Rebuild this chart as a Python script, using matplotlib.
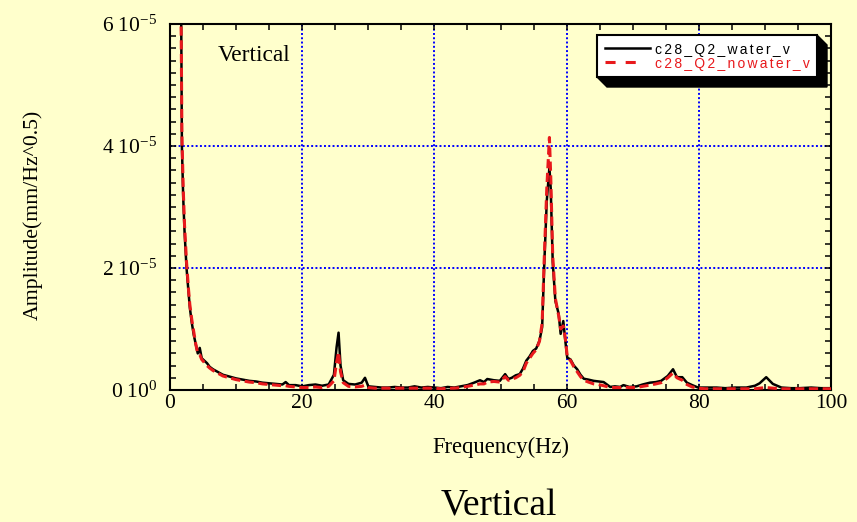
import matplotlib
matplotlib.use('Agg')
import matplotlib.pyplot as plt
from matplotlib.lines import Line2D
from matplotlib.patches import Polygon, Rectangle
from matplotlib.ticker import MultipleLocator, FixedLocator

# ---------------- data (amplitude in 1e-6 mm/Hz^0.5) ----------------
freq = [0.5, 1.0, 1.5, 1.7, 1.8, 2.0, 2.2, 2.5, 2.8, 3.0, 3.3, 3.6, 3.9, 4.2, 4.5, 4.8, 5.2, 5.6, 6.0, 6.5, 7.0, 7.5, 8.0,
        9, 10, 11, 12, 13, 14, 15, 16, 17, 17.5, 18, 19, 20, 21, 22, 23, 24,
        24.8, 25.2, 25.5, 25.8, 26.2, 27, 28, 29, 29.5, 30,
        31, 32, 33, 34, 35, 36, 37, 38, 39, 40, 41, 42, 43, 44, 45, 46,
        46.9, 47.5, 48, 49, 49.9, 50.7, 51.2, 51.7, 52.3, 52.9, 53.4, 53.9, 54.4, 54.9, 55.4, 55.9, 56.3,
        56.6, 57.0, 57.4, 57.6, 57.9, 58.3, 58.8, 59.1, 59.5, 59.8, 60.1, 60.6, 61.1, 61.6, 62.1, 62.6,
        63.3, 64.1, 64.8, 65.6, 66.6, 67.3, 68.1, 68.6, 69.5, 70.6, 71.5, 72.6, 73.5, 74.3, 75.3, 76.1, 76.7, 77.5, 78.2, 79.0, 79.9,
        81, 82.7, 84, 85.5, 87.2, 88.5, 89.2, 90.2, 91.2, 92.5, 94, 95.2, 97, 98.5, 100]

water_v = [200, 150, 70, 60, 40, 31.5, 26, 20, 16, 13.5, 11, 9, 7.5, 6.0, 6.9, 5.2, 4.8, 4.4, 3.8, 3.4, 3.1, 2.8, 2.5,
           2.2, 1.9, 1.7, 1.5, 1.4, 1.2, 1.1, 1.0, 0.9, 1.3, 0.8, 0.8, 0.6, 0.8, 0.9, 0.7, 0.9,
           2.5, 7.0, 9.4, 4.0, 1.6, 1.0, 0.9, 1.2, 2.0, 0.6,
           0.5, 0.4, 0.4, 0.5, 0.4, 0.4, 0.6, 0.4, 0.5, 0.4, 0.3, 0.5, 0.4, 0.6, 0.8, 1.2,
           1.6, 1.3, 1.8, 1.6, 1.5, 2.6, 1.8, 2.0, 2.4, 2.6, 3.5, 4.8, 5.5, 6.4, 6.8, 8.1, 10.3,
           20, 31, 36.5, 33, 21, 14.6, 12.5, 9.2, 11.3, 8.1, 5.3, 5.0, 4.0, 3.4, 2.5, 1.85,
           1.7, 1.5, 1.4, 1.3, 0.5, 0.6, 0.5, 0.8, 0.5, 0.6, 0.9, 1.2, 1.3, 1.5, 2.3, 3.4, 2.1, 2.1, 1.2, 0.8, 0.4,
           0.4, 0.4, 0.3, 0.4, 0.4, 0.7, 1.1, 2.1, 1.0, 0.4, 0.3, 0.3, 0.4, 0.3, 0.3]

nowater_v = [200, 150, 70, 58, 42, 33, 27, 21, 16.5, 14, 11.5, 9.5, 7.5, 6.0, 5.8, 5.0, 4.5, 4.0, 3.6, 3.2, 2.9, 2.6, 2.3,
             2.0, 1.7, 1.5, 1.3, 1.2, 1.0, 0.9, 0.8, 0.7, 0.7, 0.6, 0.5, 0.4, 0.4, 0.5, 0.4, 0.6,
             1.5, 4.5, 6.2, 3.0, 1.2, 0.6, 0.5, 0.6, 0.8, 0.4,
             0.3, 0.3, 0.3, 0.3, 0.3, 0.3, 0.3, 0.3, 0.3, 0.3, 0.2, 0.3, 0.3, 0.4, 0.6, 0.8,
             1.0, 1.0, 1.3, 1.4, 1.3, 2.2, 1.6, 1.8, 2.0, 2.4, 3.0, 4.4, 5.2, 6.0, 6.6, 8.0, 11,
             21, 33, 41.4, 35, 22, 15, 12.2, 10, 10.5, 8.5, 5.5, 4.8, 3.8, 3.0, 2.2, 1.6,
             1.3, 1.0, 0.9, 0.7, 0.4, 0.4, 0.4, 0.5, 0.4, 0.4, 0.6, 0.8, 1.0, 1.2, 2.0, 2.8, 2.0, 1.6, 0.9, 0.5, 0.3,
             0.2, 0.2, 0.2, 0.2, 0.2, 0.2, 0.3, 0.4, 0.3, 0.2, 0.2, 0.2, 0.2, 0.2, 0.2]

series_names = ['c28_Q2_water_v', 'c28_Q2_nowater_v']
x_ticks = [0, 20, 40, 60, 80, 100]
x_tick_labels = ['0', '20', '40', '60', '80', '100']
y_ticks = [0, 2e-5, 4e-5, 6e-5]
y_tick_labels = [r'$\mathregular{0\ 10^{0}}$', r'$\mathregular{2\ 10^{-5}}$',
                 r'$\mathregular{4\ 10^{-5}}$', r'$\mathregular{6\ 10^{-5}}$']
UNIT = 1e-6

# ---------------- style ----------------
plt.rcParams['font.family'] = ['Liberation Serif', 'DejaVu Serif']
plt.rcParams['mathtext.fontset'] = 'custom'
plt.rcParams['mathtext.rm'] = 'Liberation Serif'
plt.rcParams['mathtext.it'] = 'Liberation Serif:italic'
BG = '#FFFFCC'
RED = '#E8191C'
W, H = 857, 522

fig = plt.figure(figsize=(W / 100, H / 100), dpi=100, facecolor=BG)
ax = fig.add_axes([170 / W, 1 - 390 / H, 661 / W, 366 / H])
ax.set_facecolor(BG)

ax.plot(freq, [v * UNIT for v in water_v], color='black', lw=1.8, zorder=3)
ax.plot(freq, [v * UNIT for v in nowater_v], color=RED, lw=2.2, dashes=(3, 1.5), zorder=4)

ax.set_xlim(0, 100)
ax.set_ylim(0, 6e-5)
ax.xaxis.set_major_locator(FixedLocator(x_ticks))
ax.set_xticklabels(x_tick_labels)
ax.yaxis.set_major_locator(FixedLocator(y_ticks))
ax.set_yticklabels(y_tick_labels)
ax.xaxis.set_minor_locator(MultipleLocator(5))
ax.yaxis.set_minor_locator(MultipleLocator(2e-6))
ax.tick_params(which='both', direction='in', top=True, right=True, length=4.5, width=1.1, colors='black')
ax.tick_params(axis='x', which='major', pad=3, labelsize=15.5)
ax.tick_params(axis='y', which='major', pad=9, labelsize=15.5)
ax.grid(True, which='major', color='#0000FF', linestyle=(0, (1, 1.2)), lw=1.4)
for s in ax.spines.values():
    s.set_linewidth(1.5)
    s.set_color('black')

ax.text((218 - 170) / 661, (390 - 61) / 366, 'Vertical', transform=ax.transAxes,
        fontsize=16.8, va='baseline', ha='left')

fig.text(501 / W, 1 - 453 / H, 'Frequency(Hz)', fontsize=16.3, ha='center', va='baseline')
fig.text(32.5 / W, 1 - 215 / H, 'Amplitude(mm/Hz^0.5)', fontsize=15.7, rotation=90,
         ha='center', va='center')
fig.text(499 / W, 1 - 515 / H, 'Vertical', fontsize=27, ha='center', va='baseline')

# ---------------- legend with 3D shadow ----------------
def P(x, y):
    return (x / W, 1 - y / H)

def spaced(s):
    return '\u2006'.join(s)

shadow = Polygon([P(597, 77), P(817, 77), P(817, 35), P(827, 45), P(827, 87), P(607, 87)],
                 closed=True, transform=fig.transFigure, facecolor='black', edgecolor='black', zorder=5)
box = Rectangle(P(597, 77), 220 / W, 42 / H, transform=fig.transFigure,
                facecolor='white', edgecolor='black', lw=1.5, zorder=6)
fig.add_artist(shadow)
fig.add_artist(box)
fig.add_artist(Line2D([605 / W, 650 / W], [1 - 48 / H] * 2, transform=fig.transFigure,
                      color='black', lw=1.8, zorder=7))
fig.add_artist(Line2D([605 / W, 637 / W], [1 - 62 / H] * 2, transform=fig.transFigure,
                      color=RED, lw=2.2, dashes=(3.3, 3.3), zorder=7))
LFONT = ['Liberation Sans', 'DejaVu Sans']
fig.text(655 / W, 1 - 54 / H, spaced(series_names[0]), fontsize=10, family=LFONT,
         color='black', va='baseline', ha='left', zorder=7)
fig.text(655 / W, 1 - 68 / H, spaced(series_names[1]), fontsize=10, family=LFONT,
         color=RED, va='baseline', ha='left', zorder=7)

fig.savefig('out.png', dpi=100, facecolor=BG)
